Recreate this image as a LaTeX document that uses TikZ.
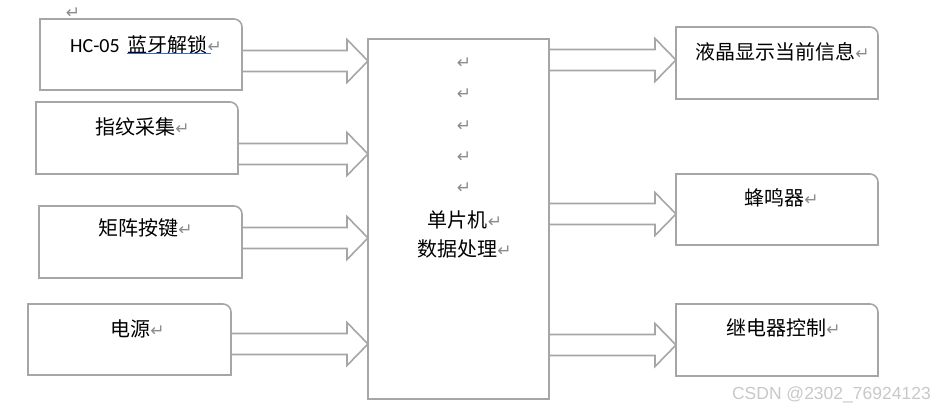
\documentclass[tikz,border=0pt]{standalone}
\usepackage{fontspec}
\setmainfont{Carlito}
\newfontfamily\cjk{Noto Sans CJK SC}
\newfontfamily\symf{DejaVu Sans}
\newfontfamily\wmf{Liberation Sans}
\definecolor{linegray}{HTML}{A6A6A6}
\definecolor{retgray}{HTML}{8C8C8C}
\definecolor{ulblue}{HTML}{2F6FD6}
\definecolor{wmgray}{HTML}{C8C8C8}
\newcommand\ret{{\symf\fontsize{17}{17}\selectfont\color{retgray}↵}}
\newcommand\cornerbox[1]{%
  \draw[boxline] (#1.south west) -- (#1.north west) -- ([xshift=-8pt]#1.north east)
    arc[start angle=90,end angle=0,radius=8pt] -- (#1.south east) -- cycle;}
\newcommand\blkarrow[3]{%
  \coordinate (s-#1-#2) at (#1.east |- 0,#3);
  \coordinate (t-#1-#2) at (#2.west |- 0,#3);
  \draw[boxline] ([yshift=10.5pt]s-#1-#2) -- ([xshift=-21pt,yshift=10.5pt]t-#1-#2)
    -- ([xshift=-21pt,yshift=21.5pt]t-#1-#2) -- (t-#1-#2)
    -- ([xshift=-21pt,yshift=-21.5pt]t-#1-#2) -- ([xshift=-21pt,yshift=-10.5pt]t-#1-#2)
    -- ([yshift=-10.5pt]s-#1-#2);}
\tikzset{
  boxline/.style={draw=linegray,line width=1.6pt,line join=miter},
  frame/.style={rectangle,draw=none,inner sep=0,outer sep=0},
  txt/.style={inner sep=0,anchor=base,font=\fontsize{20}{24}\selectfont\cjk},
  retmark/.style={inner sep=0},
}
\begin{document}
\begin{tikzpicture}[x=1pt,y=-1pt]
\useasboundingbox (0,0) rectangle (936,411);
% frames
\node[frame,minimum width=202pt,minimum height=71pt] (hc) at (141,54.5) {};
\node[frame,minimum width=202pt,minimum height=72pt] (fp) at (137,138) {};
\node[frame,minimum width=203pt,minimum height=72pt] (kb) at (140.5,242) {};
\node[frame,minimum width=203pt,minimum height=71pt] (pw) at (129.5,339.5) {};
\node[frame,minimum width=181pt,minimum height=360pt] (mcu) at (458.5,219) {};
\node[frame,minimum width=202pt,minimum height=72pt] (lcd) at (777,63) {};
\node[frame,minimum width=202pt,minimum height=71pt] (bz) at (777,209.5) {};
\node[frame,minimum width=202pt,minimum height=72pt] (rl) at (777,340) {};
\cornerbox{hc}
\cornerbox{fp}
\cornerbox{kb}
\cornerbox{pw}
\draw[boxline] (mcu.south west) rectangle (mcu.north east);
\cornerbox{lcd}
\cornerbox{bz}
\cornerbox{rl}
% block arrows
\blkarrow{hc}{mcu}{61}
\blkarrow{fp}{mcu}{154}
\blkarrow{kb}{mcu}{238}
\blkarrow{pw}{mcu}{344}
\blkarrow{mcu}{lcd}{60}
\blkarrow{mcu}{bz}{214}
\blkarrow{mcu}{rl}{345}
% texts
\node[retmark] (r0) at (73,13) {\ret};
\node[txt,anchor=base west] (thc1) at (70,52.6) {\rmfamily HC-05};
\node[txt,anchor=base west] (thc2) at (127,52.6) {蓝牙解锁};
\node[txt,anchor=base west] (thc3) at (thc2.base east) {\ret};
\draw[ulblue,line width=1.1pt] (127,53.5) -- (211,53.5);
\node[txt] (tfp) at (142.5,134.6) {指纹采集\ret};
\node[txt] (tkb) at (145.5,235.6) {矩阵按键\ret};
\node[txt] (tpw) at (137.5,336.6) {电源\ret};
\node[retmark] (r1) at (464,63) {\ret};
\node[retmark] (r2) at (464,94) {\ret};
\node[retmark] (r3) at (464,126) {\ret};
\node[retmark] (r4) at (464,157) {\ret};
\node[retmark] (r5) at (464,188) {\ret};
\node[txt] (tm1) at (465,227.6) {单片机\ret};
\node[txt] (tm2) at (464.5,256.6) {数据处理\ret};
\node[txt] (tlcd) at (782.5,59.6) {液晶显示当前信息\ret};
\node[txt] (tbz) at (781.5,205.6) {蜂鸣器\ret};
\node[txt] (trl) at (783.5,335.6) {继电器控制\ret};
\node[inner sep=0,anchor=east,font=\wmf\fontsize{17.5}{20}\selectfont,text=wmgray] (wm) at (931,395) {CSDN @2302\_76924123};
\end{tikzpicture}
\end{document}
